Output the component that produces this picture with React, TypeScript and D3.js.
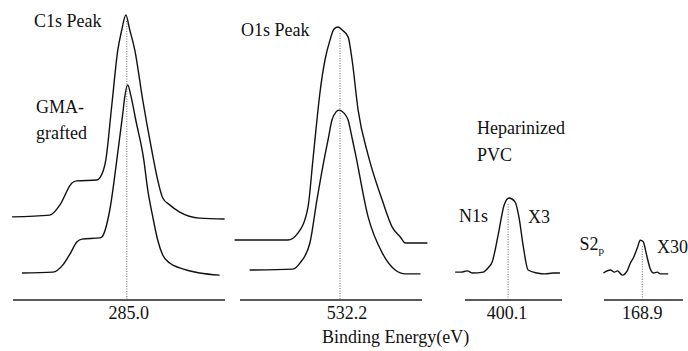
import * as d3 from "d3";

const width = 688;
const height = 351;

// [binding energy (eV), intensity (a.u., stacked as in the figure)]
const c1sTop: [number, number][] = [
  [294.58, 27.7], [291.42, 28.3], [290.58, 31.7], [289.58, 39.0], [289.17, 39.7],
  [287.5, 40.0], [287.25, 40.7], [286.75, 46.7], [286.25, 65.0], [285.75, 83.3],
  [285.42, 90.0], [285.08, 95.0], [284.75, 90.0], [284.33, 83.3], [283.67, 66.7],
  [282.92, 50.0], [282.42, 40.0], [282.0, 34.0], [281.42, 31.7], [280.58, 29.3],
  [278.92, 27.3], [276.83, 27.0],
];
const c1sBottom: [number, number][] = [
  [293.75, 9.0], [291.17, 9.3], [290.33, 11.7], [289.75, 15.3], [289.17, 19.3],
  [288.75, 20.3], [287.25, 20.7], [287.08, 21.0], [286.42, 30.0], [285.83, 46.7],
  [285.33, 62.3], [285.17, 67.7], [284.92, 71.7], [284.67, 68.3], [284.25, 60.0],
  [283.58, 46.7], [283.25, 36.7], [282.83, 27.7], [282.42, 20.0], [282.0, 15.0],
  [281.42, 12.3], [280.58, 10.7], [278.92, 9.0], [277.25, 8.3],
];
const o1sTop: [number, number][] = [
  [540.95, 20.0], [536.53, 20.0], [535.7, 22.3], [534.87, 30.7], [534.45, 46.7],
  [534.2, 56.7], [533.87, 69.0], [533.45, 80.0], [533.03, 86.7], [532.7, 90.3],
  [532.37, 91.0], [532.03, 90.0], [531.53, 87.7], [531.2, 80.0], [530.7, 63.3],
  [529.87, 48.3], [528.7, 33.3], [527.87, 24.3], [527.2, 21.0], [526.78, 19.0],
  [524.95, 19.0],
];
const o1sBottom: [number, number][] = [
  [539.7, 10.0], [536.12, 10.3], [535.53, 12.3], [534.7, 19.0], [534.12, 33.3],
  [533.45, 48.3], [533.2, 53.3], [532.87, 60.0], [532.53, 62.7], [532.28, 63.3],
  [531.87, 62.3], [531.53, 60.0], [531.2, 54.0], [530.95, 49.3], [529.87, 27.7],
  [528.7, 15.7], [527.62, 10.0], [526.78, 8.7], [525.53, 8.7],
];
const n1s: [number, number][] = [
  [404.52, 9.3], [404.02, 9.3], [403.52, 9.7], [403.1, 9.0], [402.18, 9.3],
  [401.77, 10.7], [401.43, 12.7], [400.93, 21.7], [400.43, 31.7], [400.02, 34.0],
  [399.52, 32.7], [399.18, 27.3], [398.85, 18.3], [398.43, 10.0], [397.68, 9.0],
  [397.02, 8.7], [396.35, 9.0], [395.77, 9.0],
];
const s2p: [number, number][] = [
  [172.15, 9.0], [171.57, 10.0], [171.23, 9.3], [170.98, 9.7], [170.57, 8.3],
  [170.15, 9.8], [169.9, 12.3], [169.65, 14.0], [169.32, 17.3], [169.07, 19.9],
  [168.82, 19.4], [168.57, 15.5], [168.23, 10.3], [167.98, 9.0], [167.65, 9.3],
  [167.4, 8.7], [166.73, 8.7],
];

const peakEnergies = [285.0, 532.2, 400.1, 168.9];
const peakLabels = ["285.0", "532.2", "400.1", "168.9"];
const beWindows: [number, number][] = [
  [294.5, 276.8], [540.5, 525.4], [403.7, 395.6], [172.1, 165.5],
];
const panelSeries = [[c1sTop, c1sBottom], [o1sTop, o1sBottom], [n1s], [s2p]];

// pixel placement of each panel's energy axis
const panelRanges: [number, number][] = [[13, 225], [240, 422], [465, 562], [604, 683]];
const labelShift = [2, 7, -1, 0];

const serif = "Liberation Serif, Times New Roman, serif";

export default function App() {
  const yScale = d3.scaleLinear().domain([0, 95]).range([300, 15]);

  const panels = beWindows.map((dom, i) => {
    const x = d3.scaleLinear().domain(dom).range(panelRanges[i]);
    const line = d3
      .line<[number, number]>()
      .x((d) => x(d[0]))
      .y((d) => yScale(d[1]))
      .curve(d3.curveMonotoneX);
    const top = d3.max(panelSeries[i][0], (d) => d[1]) ?? 0;
    return {x, line, top};
  });

  return (
    <svg
      width={width}
      height={height}
      style={{position: "absolute", left: 0, top: 0, background: "#fff"}}
    >
      {panels.map((p, i) => (
        <g key={i}>
          <line
            x1={panelRanges[i][0]}
            x2={panelRanges[i][1]}
            y1={yScale(0)}
            y2={yScale(0)}
            stroke="#222"
            strokeWidth={1.3}
          />
          <line
            x1={p.x(peakEnergies[i])}
            x2={p.x(peakEnergies[i])}
            y1={yScale(p.top) + 6}
            y2={yScale(0)}
            stroke="#444"
            strokeWidth={0.8}
            strokeDasharray="1,1.5"
          />
          {panelSeries[i].map((s, j) => (
            <path key={j} d={p.line(s) ?? ""} fill="none" stroke="#111" strokeWidth={1.4} />
          ))}
          <text x={p.x(peakEnergies[i]) + labelShift[i]} y={319} textAnchor="middle"
            fontFamily={serif} fontSize={18} fill="#111">
            {peakLabels[i]}
          </text>
        </g>
      ))}

      <g fontFamily={serif} fontSize={18} fill="#111">
        <text x={34} y={27}>C1s Peak</text>
        <text x={36} y={113}>GMA-</text>
        <text x={36} y={139}>grafted</text>
        <text x={241} y={36}>O1s Peak</text>
        <text x={477} y={134}>Heparinized</text>
        <text x={477} y={161}>PVC</text>
        <text x={459} y={222}>N1s</text>
        <text x={528} y={223}>X3</text>
        <text x={604} y={250} textAnchor="end">
          S2<tspan fontSize={11} dy={4}>p</tspan>
        </text>
        <text x={657} y={253}>X30</text>
        <text x={322} y={343}>Binding Energy(eV)</text>
      </g>
    </svg>
  );
}
